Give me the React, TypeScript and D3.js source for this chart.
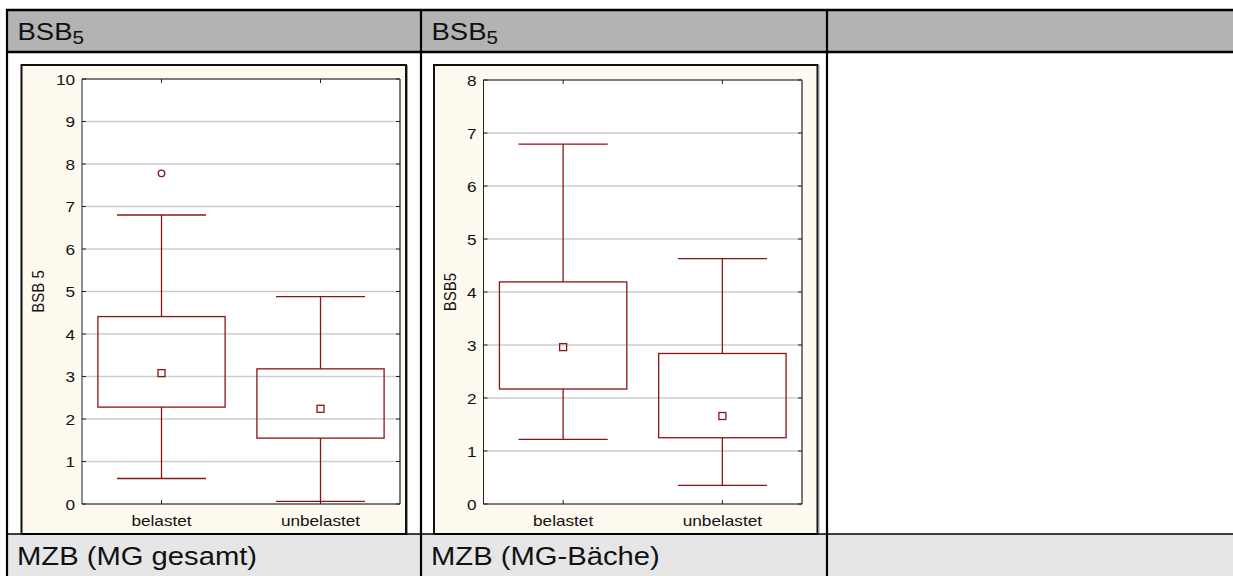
import React from "react";
import * as d3 from "d3";

// ---- data ----
const categories = ["belastet", "unbelastet"];

// Panel 1: MZB (MG gesamt)
const leftWhiskerLow = [0.6, 0.06];
const leftQ1 = [2.28, 1.55];
const leftCenter = [3.08, 2.24];
const leftQ3 = [4.41, 3.18];
const leftWhiskerHigh = [6.8, 4.88];
const leftOutliers = [[7.78], []];
const leftTicks = [0, 1, 2, 3, 4, 5, 6, 7, 8, 9, 10];

// Panel 2: MZB (MG-Bäche)
const rightWhiskerLow = [1.22, 0.35];
const rightQ1 = [2.17, 1.25];
const rightCenter = [2.96, 1.66];
const rightQ3 = [4.19, 2.84];
const rightWhiskerHigh = [6.79, 4.63];
const rightOutliers = [[], []];
const rightTicks = [0, 1, 2, 3, 4, 5, 6, 7, 8];

const headerTitles = ["BSB", "BSB", ""];
const footerTitles = ["MZB (MG gesamt)", "MZB (MG-Bäche)", ""];
const axisTitles = ["BSB 5", "BSB5"];

const SX = 1.145;
const FONT = "'Liberation Sans', Arial, Helvetica, sans-serif";
const RED = "#8b1414";

type PanelProps = {
  frame: [number, number, number, number];
  plot: [number, number, number, number];
  domainMax: number;
  ticks: number[];
  low: number[];
  q1: number[];
  center: number[];
  q3: number[];
  high: number[];
  outliers: number[][];
  yTitle: string;
  yTitleX: number;
};

function Panel(p: PanelProps) {
  const [fx0, fy0, fx1, fy1] = p.frame;
  const [px0, py0, px1, py1] = p.plot;
  const y = d3.scaleLinear().domain([0, p.domainMax]).range([py1, py0]);
  const x = d3.scaleBand<string>().domain(categories).range([px0, px1]).paddingInner(0).paddingOuter(0);
  const bw = x.bandwidth();
  const boxW = bw * 0.8;
  const capW = bw * 0.56;
  const tl = 4;
  return (
    <g>
      <rect x={fx0} y={fy0} width={fx1 - fx0} height={fy1 - fy0} fill="#fffaf0" stroke="#111" strokeWidth={2} />
      <line x1={fx1 + 1.5} y1={fy0} x2={fx1 + 1.5} y2={fy1 + 1} stroke="#9a9a9a" strokeWidth={1} />
      <rect x={px0} y={py0} width={px1 - px0} height={py1 - py0} fill="#fff" />
      {p.ticks.map((t) => (
        <line key={"g" + t} x1={px0} x2={px1} y1={y(t)} y2={y(t)} stroke="#cdcdcd" strokeWidth={1.3} />
      ))}
      {/* axes */}
      <line x1={px0} x2={px1} y1={py0} y2={py0} stroke="#222" strokeWidth={1} />
      <line x1={px1} x2={px1} y1={py0} y2={py1} stroke="#777" strokeWidth={2} />
      <line x1={px0} x2={px0} y1={py0} y2={py1} stroke="#222" strokeWidth={1} />
      <line x1={px0} x2={px1} y1={py1} y2={py1} stroke="#222" strokeWidth={1} />
      {p.ticks.map((t) => (
        <g key={"t" + t}>
          <line x1={px0} x2={px0 + tl} y1={y(t)} y2={y(t)} stroke="#222" strokeWidth={1} />
          <line x1={px1 - tl} x2={px1} y1={y(t)} y2={y(t)} stroke="#222" strokeWidth={1} />
          <text
            transform={`translate(${px0 - 7},${y(t) + 5.5}) scale(${SX},1)`}
            textAnchor="end"
            fontSize={15}
            fontFamily={FONT}
            fill="#111"
          >
            {t}
          </text>
        </g>
      ))}
      {categories.map((c) => {
        const cx = (x(c) as number) + bw / 2;
        return (
          <g key={"xt" + c}>
            <line x1={cx} x2={cx} y1={py0} y2={py0 + tl} stroke="#222" strokeWidth={1} />
            <line x1={cx} x2={cx} y1={py1 - tl} y2={py1} stroke="#222" strokeWidth={1} />
            <text
              transform={`translate(${cx},${py1 + 22}) scale(${SX},1)`}
              textAnchor="middle"
              fontSize={15}
              fontFamily={FONT}
              fill="#111"
            >
              {c}
            </text>
          </g>
        );
      })}
      {/* boxes */}
      {categories.map((c, i) => {
        const cx = (x(c) as number) + bw / 2;
        return (
          <g key={"b" + c} fill="none" stroke={RED} strokeWidth={1.3}>
            <line x1={cx} x2={cx} y1={y(p.high[i])} y2={y(p.q3[i])} />
            <line x1={cx} x2={cx} y1={y(p.q1[i])} y2={y(p.low[i])} />
            <line x1={cx - capW / 2} x2={cx + capW / 2} y1={y(p.high[i])} y2={y(p.high[i])} />
            <line x1={cx - capW / 2} x2={cx + capW / 2} y1={y(p.low[i])} y2={y(p.low[i])} />
            <rect x={cx - boxW / 2} y={y(p.q3[i])} width={boxW} height={y(p.q1[i]) - y(p.q3[i])} />
            <rect x={cx - 3.5} y={y(p.center[i]) - 3.5} width={7} height={7} />
            {p.outliers[i].map((o, k) => (
              <circle key={k} cx={cx} cy={y(o)} r={3.3} />
            ))}
          </g>
        );
      })}
      <text
        transform={`translate(${p.yTitleX},${(py0 + py1) / 2}) scale(${SX},1) rotate(-90)`}
        textAnchor="middle"
        fontSize={15}
        fontFamily={FONT}
        fill="#111"
      >
        {p.yTitle}
      </text>
    </g>
  );
}

export default function App() {
  const W = 1233;
  const H = 576;
  const colX = [7, 421, 827];
  return (
    <svg
      width={W}
      height={H}
      style={{ position: "absolute", left: 0, top: 0, background: "#fff" }}
      fontFamily={FONT}
    >
      <rect x={0} y={0} width={W} height={H} fill="#fff" />
      {/* header row */}
      <rect x={7} y={10} width={W - 7} height={42} fill="#b3b3b3" />
      {/* footer row */}
      <rect x={7} y={534} width={W - 7} height={H - 534} fill="#e6e6e6" />
      <Panel
        frame={[21.5, 65, 406, 534]}
        plot={[82, 79, 400, 504]}
        domainMax={10}
        ticks={leftTicks}
        low={leftWhiskerLow}
        q1={leftQ1}
        center={leftCenter}
        q3={leftQ3}
        high={leftWhiskerHigh}
        outliers={leftOutliers}
        yTitle={axisTitles[0]}
        yTitleX={44}
      />
      <Panel
        frame={[434, 65, 817.5, 534]}
        plot={[483.5, 80, 802, 504]}
        domainMax={8}
        ticks={rightTicks}
        low={rightWhiskerLow}
        q1={rightQ1}
        center={rightCenter}
        q3={rightQ3}
        high={rightWhiskerHigh}
        outliers={rightOutliers}
        yTitle={axisTitles[1]}
        yTitleX={456}
      />
      {/* table borders */}
      <line x1={6} x2={W} y1={10} y2={10} stroke="#000" strokeWidth={2.5} />
      <line x1={6} x2={W} y1={52} y2={52} stroke="#000" strokeWidth={2.5} />
      <line x1={6} x2={W} y1={534} y2={534} stroke="#000" strokeWidth={1.5} />
      {colX.map((cx) => (
        <line key={cx} x1={cx} x2={cx} y1={9} y2={H} stroke="#000" strokeWidth={2.2} />
      ))}
      {/* header titles */}
      {headerTitles.map((t, i) =>
        t ? (
          <text
            key={"h" + i}
            transform={`translate(${colX[i] + 10.5},40) scale(${SX},1)`}
            fontSize={24}
            fontFamily={FONT}
            fill="#111"
          >
            {t}
            <tspan fontSize={18} dy={3.5}>5</tspan>
          </text>
        ) : null
      )}
      {footerTitles.map((t, i) =>
        t ? (
          <text
            key={"f" + i}
            transform={`translate(${colX[i] + 10},565) scale(${SX},1)`}
            fontSize={25.5}
            fontFamily={FONT}
            fill="#111"
          >
            {t}
          </text>
        ) : null
      )}
    </svg>
  );
}
